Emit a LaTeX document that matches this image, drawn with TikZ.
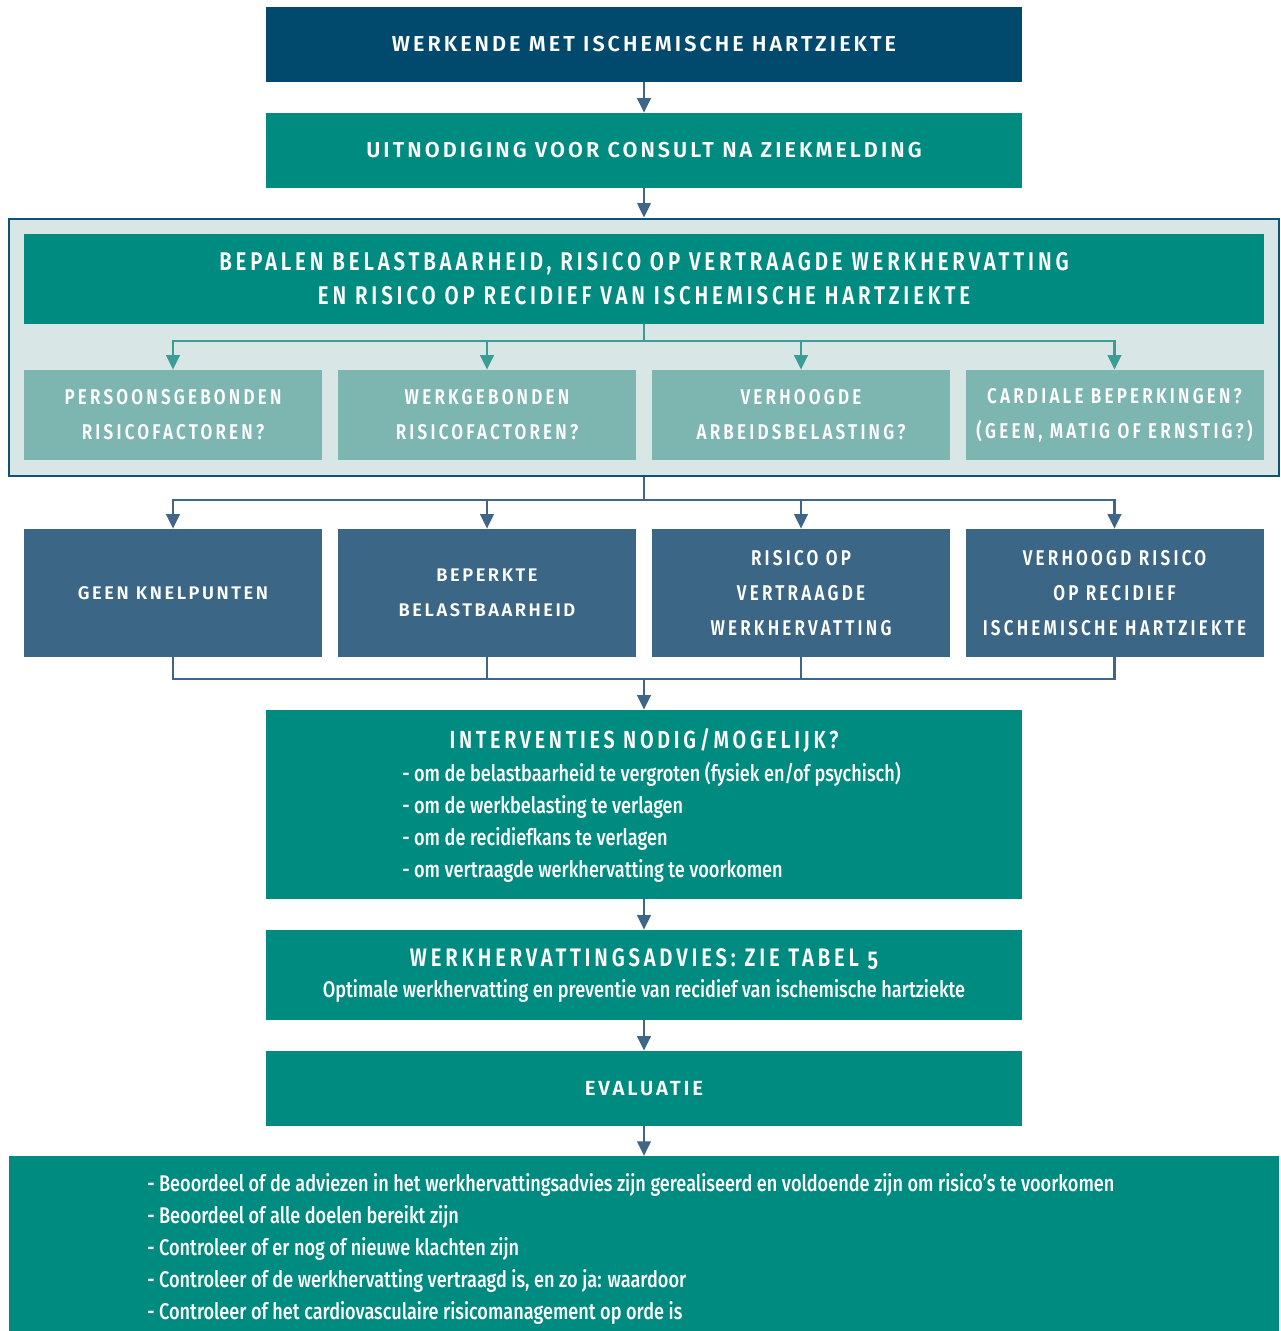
\documentclass[tikz,border=0pt]{standalone}
\usepackage{fontspec}
\usetikzlibrary{arrows.meta,positioning}
\setmainfont{Fira Sans}
\newfontfamily\wfont{Fira Sans SemiBold}[LetterSpace=14]
\newfontfamily\cfont{Fira Sans SemiBold}[FakeStretch=0.8,LetterSpace=15]
\newfontfamily\bfont{Fira Sans Medium}[FakeStretch=0.8]
\definecolor{navy}{HTML}{014A6D}
\definecolor{teal}{HTML}{008B80}
\definecolor{pale}{HTML}{D8E6E5}
\definecolor{border}{HTML}{0F5273}
\definecolor{soft}{HTML}{7DB6B0}
\definecolor{tline}{HTML}{3A9E97}
\definecolor{steel}{HTML}{3B6685}
\definecolor{bline}{HTML}{3F6688}
\begin{document}
\begin{tikzpicture}[x=0.75pt,y=-0.75pt,
  box/.style={inner sep=0pt,align=center,text=white,minimum width=567pt},
  softbox/.style={box,fill=soft,minimum width=223.5pt,minimum height=67.5pt,font=\cfont\fontsize{16}{26.25}\selectfont},
  steelbox/.style={box,fill=steel,minimum width=223.5pt,minimum height=96pt},
  arr/.style={draw=bline,line width=2.2pt,-{Triangle[length=11pt,width=10pt]}},
  tarr/.style={draw=tline,line width=2.2pt,-{Triangle[length=11pt,width=10pt]}},
  conn/.style={draw=bline,line width=2.2pt}]
\useasboundingbox (0,0) rectangle (1281,1331);
% top boxes
\node[box,fill=navy,minimum height=56.25pt,font=\wfont\fontsize{16.2}{18}\selectfont] (b1) at (644,44.5) {WERKENDE MET ISCHEMISCHE HARTZIEKTE};
\node[box,fill=teal,minimum height=56.25pt,font=\wfont\fontsize{16.2}{18}\selectfont] (b2) at (644,150.5) {UITNODIGING VOOR CONSULT NA ZIEKMELDING};
% outer panel
\node[inner sep=0pt,fill=pale,draw=border,line width=2pt,minimum width=952.5pt,minimum height=192.75pt] (outer) at (644,347.5) {};
\node[box,fill=teal,minimum width=930pt,minimum height=67.5pt,font=\cfont\fontsize{19.2}{25.5}\selectfont] (hdr) at (644,279) {BEPALEN BELASTBAARHEID, RISICO OP VERTRAAGDE WERKHERVATTING\\EN RISICO OP RECIDIEF VAN ISCHEMISCHE HARTZIEKTE};
\node[softbox] (s1) at (173,415) {PERSOONSGEBONDEN\\RISICOFACTOREN?};
\node[softbox] (s2) at (487,415) {WERKGEBONDEN\\RISICOFACTOREN?};
\node[softbox] (s3) at (801,415) {VERHOOGDE\\ARBEIDSBELASTING?};
\node[softbox] (s4) at (1114.5,415) {CARDIALE BEPERKINGEN?\\(GEEN, MATIG OF ERNSTIG?)};
\coordinate (j1) at (644,341);
% steel boxes
\node[steelbox,font=\wfont\fontsize{13.7}{26.25}\selectfont] (k1) at (173,593) {GEEN KNELPUNTEN};
\node[steelbox,font=\wfont\fontsize{13.7}{26.25}\selectfont] (k2) at (487,593) {BEPERKTE\\BELASTBAARHEID};
\node[steelbox,font=\cfont\fontsize{16}{26.25}\selectfont] (k3) at (801,593) {RISICO OP\\VERTRAAGDE\\WERKHERVATTING};
\node[steelbox,font=\cfont\fontsize{16}{26.25}\selectfont] (k4) at (1114.5,593) {VERHOOGD RISICO\\OP RECIDIEF\\ISCHEMISCHE HARTZIEKTE};
\coordinate (j2) at (644,500);
\coordinate (j3) at (644,679);
% interventies
\node[box,fill=teal,minimum height=141.75pt] (int) at (644,804.5) {};
\node[text=white,inner sep=0pt,anchor=base,font=\cfont\fontsize{18.5}{20}\selectfont] (intt) at (644,748.5) {INTERVENTIES NODIG/MOGELIJK?};
\node[text=white,inner sep=0pt,anchor=base west,align=left,font=\bfont\fontsize{17}{24}\selectfont] (intb) at (402,877) {- om de belastbaarheid te vergroten (fysiek en/of psychisch)\\- om de werkbelasting te verlagen\\- om de recidiefkans te verlagen\\- om vertraagde werkhervatting te voorkomen};
% werkhervattingsadvies
\node[box,fill=teal,minimum height=67.5pt] (adv) at (644,975) {};
\node[text=white,inner sep=0pt,anchor=base,font=\cfont\fontsize{19}{20}\selectfont] (advt) at (644,966.5) {WERKHERVATTINGSADVIES: ZIE TABEL {\addfontfeatures{Numbers=OldStyle}5}};
\node[text=white,inner sep=0pt,anchor=base,font=\bfont\fontsize{17}{20}\selectfont] (advs) at (644,997) {Optimale werkhervatting en preventie van recidief van ischemische hartziekte};
% evaluatie
\node[box,fill=teal,minimum height=56.25pt,font=\wfont\fontsize{15.3}{16}\selectfont] (ev) at (644,1088.5) {EVALUATIE};
% bottom panel
\node[inner sep=0pt,fill=teal,minimum width=952.5pt,minimum height=132pt,anchor=north] (bot) at (644,1156) {};
\node[text=white,inner sep=0pt,anchor=base west,align=left,font=\bfont\fontsize{17}{24}\selectfont] (botb) at (147,1319) {- Beoordeel of de adviezen in het werkhervattingsadvies zijn gerealiseerd en voldoende zijn om risico’s te voorkomen\\- Beoordeel of alle doelen bereikt zijn\\- Controleer of er nog of nieuwe klachten zijn\\- Controleer of de werkhervatting vertraagd is, en zo ja: waardoor\\- Controleer of het cardiovasculaire risicomanagement op orde is};
% connectors
\draw[arr] (b1) -- (b2);
\draw[arr] (b2) -- (outer);
\foreach \s in {s1,s2,s3,s4} \draw[tarr] (hdr.south) -- (j1) -| (\s.north);
\foreach \k in {k1,k2,k3,k4} \draw[arr] (outer.south) -- (j2) -| (\k.north);
\foreach \k in {k1,k2,k3,k4} \draw[conn] (\k.south) |- (j3);
\draw[arr] (j3) -- (int);
\draw[arr] (int) -- (adv);
\draw[arr] (adv) -- (ev);
\draw[arr] (ev) -- (bot);
\end{tikzpicture}
\end{document}
